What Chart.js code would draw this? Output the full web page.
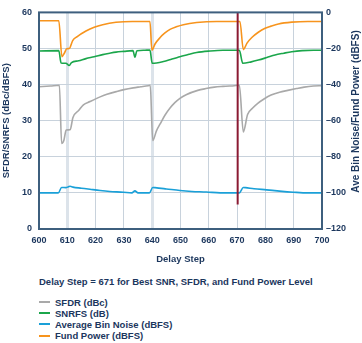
<!DOCTYPE html>
<html>
<head>
<meta charset="utf-8">
<script src="https://cdn.jsdelivr.net/npm/chart.js@4/dist/chart.umd.min.js"></script>
<style>
  body { margin: 0; background: #fff; }
  #wrap { position: relative; width: 362px; height: 343px; font-family: "Liberation Sans", Arial, sans-serif; font-weight: bold; color: #1b365d; }
  #c { position: absolute; left: 0; top: 0; }
  #note { position: absolute; left: 39px; top: 276px; font-size: 9.5px; white-space: nowrap; }
  #legend { position: absolute; left: 39px; top: 296.5px; font-size: 9.5px; }
  .item { height: 11.2px; line-height: 11.2px; white-space: nowrap; }
  .item span.swatch { display: inline-block; width: 11px; height: 2px; vertical-align: middle; margin-right: 5px; position: relative; top: -1px; }
</style>
</head>
<body>
<div id="wrap">
  <canvas id="c" width="362" height="270"></canvas>
  <div id="note"></div>
  <div id="legend"></div>
</div>
<script>
// SFDR (dBc), left axis
const sfdrSteps = [600, 604, 607.2, 608.0, 608.8, 609.6, 611.0, 612.0, 614, 615.7, 618, 621.6, 624, 627.5, 630, 633.3, 636, 638.6, 639.3,
  640.2, 641.5, 642.8, 644.5, 646.3, 648, 649.8, 652, 656.1, 659, 662, 665, 669, 670.8,
  672.2, 673.7, 675.5, 677.3, 679.5, 682, 685, 687.9, 691, 693.7, 697, 700];
const sfdrValues = [39.4, 39.6, 39.8, 23.7, 24.6, 27.4, 27.5, 30.9, 32.8, 34.4, 35.3, 36.6, 37.3, 38.1, 38.6, 39.1, 39.4, 39.7, 39.8,
  24.5, 27.2, 29.1, 31.5, 33.5, 35.0, 36.2, 37.2, 38.4, 38.9, 39.3, 39.5, 39.7, 39.8,
  26.9, 31.7, 33.5, 34.8, 36.0, 37.1, 37.9, 38.4, 38.9, 39.3, 39.6, 39.7];

// SNRFS (dB), left axis
const snrSteps = [600, 607.0, 607.8, 609.5, 610.7, 611.5, 614, 616.6, 619.5, 622.5, 625, 627.2, 630, 633.2, 633.9, 634.6, 637, 639.2,
  640.0, 644, 647, 649.8, 653, 655.7, 660.4, 665, 670.8,
  672.0, 675, 677.5, 680.5, 683.4, 686.5, 689.3, 693, 697, 700];
const snrValues = [49.3, 49.4, 46.0, 45.9, 45.3, 46.1, 46.6, 47.2, 47.7, 48.3, 48.7, 49.0, 49.2, 49.4, 47.6, 49.4, 49.5, 49.6,
  45.9, 46.4, 47.1, 47.7, 48.4, 48.9, 49.3, 49.5, 49.5,
  45.9, 46.3, 46.8, 47.5, 48.2, 48.7, 49.1, 49.4, 49.5, 49.5];

// Average Bin Noise (dBFS), right axis
const noiseSteps = [600, 606.8, 608.0, 609.5, 610.4, 611.0, 612, 615, 618, 621.6, 625, 629.8, 632.8, 633.9, 635.0, 639.0,
  640.2, 641, 645, 649.8, 654, 659.2, 664, 670.8,
  672.2, 673, 676, 680.4, 685, 689.9, 695, 700];
const noiseValues = [-100, -100, -97, -97.1, -96.6, -96.3, -96.8, -97.4, -98, -98.7, -99.2, -99.6, -100, -98.9, -100, -100,
  -97, -97.1, -97.8, -98.7, -99.2, -99.5, -100, -100,
  -97, -97.1, -97.7, -98.3, -99, -99.6, -100, -100];

// Fund Power (dBFS), right axis
const fundSteps = [600, 607.0, 608.1, 609.0, 609.8, 610.7, 611.9, 613.5, 616.6, 619.5, 622.5, 627.2, 633, 639.2,
  639.9, 641, 642.8, 644.5, 646.3, 648.5, 651, 655.7, 662.8, 671.0,
  672.2, 673.5, 675.2, 677.5, 679.9, 682, 684.6, 689.3, 695, 700];
const fundValues = [-4.6, -4.6, -24.5, -22.5, -20.1, -20.0, -15.6, -13.4, -10.3, -8.2, -6.8, -5.5, -5.0, -5.0,
  -21.0, -17.5, -13.9, -11.4, -9.4, -8.0, -6.8, -5.6, -5.0, -5.0,
  -20.6, -17.0, -13.9, -11.0, -8.8, -7.6, -6.4, -5.4, -5.0, -5.0];

// marker for the chosen delay step
const markerSteps = [670.2, 670.2];
const markerValues = [60, 6.8];

const seriesNames = ['SFDR (dBc)', 'SNRFS (dB)', 'Average Bin Noise (dBFS)', 'Fund Power (dBFS)'];
const seriesColors = ['#a9a9a9', '#1ba64b', '#1aa0d8', '#f7941d'];
const noteText = 'Delay Step = 671 for Best SNR, SFDR, and Fund Power Level';
const xTitle = 'Delay Step';
const leftTitle = 'SFDR/SNRFS (dBc/dBFS)';
const rightTitle = 'Ave Bin Noise/Fund Power (dBFS)';

const fontFamily = '"Liberation Sans", Arial, sans-serif';
const textColor = '#1b365d';
const frameColor = '#3e5f7e';

function pts(xs, ys) {
  return xs.map((x, i) => ({ x: x, y: ys[i] }));
}

function series(i, xs, ys, axis) {
  return {
    label: seriesNames[i],
    data: pts(xs, ys),
    yAxisID: axis,
    borderColor: seriesColors[i],
    borderWidth: 1.6,
    pointRadius: 0,
    cubicInterpolationMode: 'monotone',
    fill: false
  };
}

// frame round the plot and the right-hand title (reads bottom to top)
const framePlugin = {
  id: 'frame',
  afterDraw(chart) {
    const { ctx, chartArea: a } = chart;
    ctx.save();
    ctx.strokeStyle = frameColor;
    ctx.lineWidth = 2;
    ctx.strokeRect(a.left, a.top, a.right - a.left, a.bottom - a.top);
    ctx.translate(356.3, 111.5);
    ctx.rotate(-Math.PI / 2);
    ctx.fillStyle = textColor;
    ctx.font = 'bold 10px ' + fontFamily;
    ctx.textAlign = 'center';
    ctx.textBaseline = 'middle';
    ctx.fillText(rightTitle, 0, 0);
    ctx.restore();
  }
};

const tickFont = { family: fontFamily, size: 9, weight: 'bold' };
const titleFont = { family: fontFamily, size: 9.5, weight: 'bold' };

new Chart(document.getElementById('c'), {
  type: 'line',
  data: {
    datasets: [
      {
        label: 'marker',
        data: pts(markerSteps, markerValues),
        yAxisID: 'y',
        borderColor: '#8b1a33',
        borderWidth: 2,
        pointRadius: 0,
        order: -1
      },
      series(3, fundSteps, fundValues, 'y2'),
      series(0, sfdrSteps, sfdrValues, 'y'),
      series(1, snrSteps, snrValues, 'y'),
      series(2, noiseSteps, noiseValues, 'y2')
    ]
  },
  options: {
    responsive: false,
    animation: false,
    layout: { padding: { top: 4, left: 0, right: 0, bottom: 0 } },
    plugins: {
      legend: { display: false },
      tooltip: { enabled: false }
    },
    scales: {
      x: {
        type: 'linear',
        min: 600,
        max: 700,
        border: { display: false },
        grid: {
          drawTicks: false,
          color: ctx => (ctx.tick && (ctx.tick.value === 610 || ctx.tick.value === 640)) ? '#dce3ea' : '#c8d2dc',
          lineWidth: ctx => (ctx.tick && (ctx.tick.value === 610 || ctx.tick.value === 640)) ? 3 : 1
        },
        ticks: { stepSize: 10, padding: 6, color: textColor, font: tickFont, maxRotation: 0 },
        title: { display: true, text: xTitle, color: textColor, font: titleFont, padding: { top: 0, bottom: 5 } },
        afterFit: s => { s.height = 41; }
      },
      y: {
        position: 'left',
        min: 0,
        max: 60,
        border: { display: false },
        grid: { drawTicks: false, color: '#c8d2dc', lineWidth: 1 },
        ticks: { stepSize: 10, padding: 7, color: textColor, font: tickFont },
        title: { display: true, text: leftTitle, color: textColor, font: titleFont, padding: { top: 1, bottom: 0 } },
        afterFit: s => { s.width = 39; }
      },
      y2: {
        position: 'right',
        min: -120,
        max: 0,
        border: { display: false },
        grid: { display: false, drawTicks: false },
        ticks: {
          stepSize: 20,
          padding: 4,
          color: textColor,
          font: tickFont,
          callback: v => String(v).replace('-', '\u2013')
        },
        afterFit: s => { s.width = 40; }
      }
    }
  },
  plugins: [framePlugin]
});

document.getElementById('note').textContent = noteText;
const legend = document.getElementById('legend');
seriesNames.forEach((name, i) => {
  const row = document.createElement('div');
  row.className = 'item';
  const sw = document.createElement('span');
  sw.className = 'swatch';
  sw.style.background = seriesColors[i];
  row.appendChild(sw);
  row.appendChild(document.createTextNode(name));
  legend.appendChild(row);
});
</script>
</body>
</html>
